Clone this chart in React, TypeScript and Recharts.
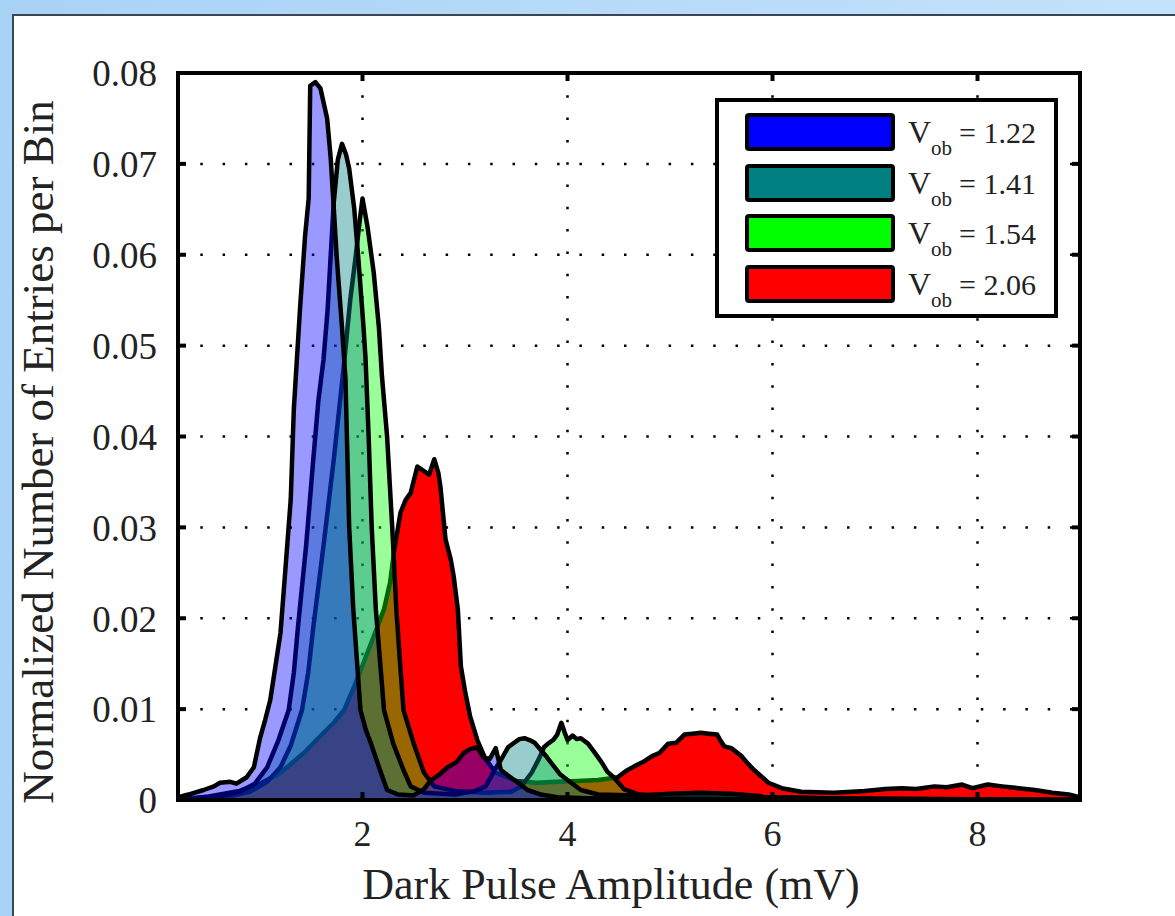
import { AreaChart, Area, XAxis, YAxis, CartesianGrid, Legend } from "recharts";

// dark pulse amplitude histograms, one per overbias voltage
const xTicks = [2, 4, 6, 8];
const yTicks = [0, 0.01, 0.02, 0.03, 0.04, 0.05, 0.06, 0.07, 0.08];

const vobLabels = ["1.22", "1.41", "1.54", "2.06"];
const vobColors = ["#0000ff", "#008080", "#00ff00", "#ff0000"];

// [amplitude mV, normalized entries]
const vob122: [number, number][] = [
  [0.2, 0.0003], [0.3, 0.0006], [0.45, 0.0011], [0.55, 0.0015], [0.61, 0.0019], [0.71, 0.002],
  [0.77, 0.0018], [0.87, 0.0025], [0.94, 0.0036], [1.0, 0.0068], [1.05, 0.0088], [1.1, 0.011],
  [1.2, 0.0184], [1.25, 0.0257], [1.3, 0.0331], [1.33, 0.043], [1.39, 0.054], [1.44, 0.0621],
  [1.475, 0.0662], [1.49, 0.0786], [1.54, 0.079], [1.59, 0.0783], [1.655, 0.075], [1.69, 0.0706],
  [1.75, 0.0595], [1.8, 0.052], [1.834, 0.0463], [1.85, 0.039], [1.87, 0.03], [1.91, 0.021],
  [1.98, 0.0099], [2.03, 0.0078], [2.08, 0.0063], [2.18, 0.003], [2.24, 0.0011], [2.35, 0.0006],
  [2.5, 0.0005], [2.6, 0.0012], [2.67, 0.0022], [2.75, 0.0028], [2.83, 0.0036], [2.92, 0.0042],
  [2.99, 0.0052], [3.05, 0.0056], [3.12, 0.0058], [3.18, 0.0047], [3.24, 0.0045], [3.3, 0.0057],
  [3.35, 0.0033], [3.42, 0.0027], [3.48, 0.0022], [3.61, 0.0011], [3.74, 0.0006], [3.9, 0.0003],
  [4.2, 0.0002], [5.0, 0.0001], [9.0, 0],
];

const vob141: [number, number][] = [
  [0.3, 0.0001], [0.6, 0.0004], [0.8, 0.0009], [0.95, 0.0018], [1.07, 0.0036], [1.18, 0.0066],
  [1.28, 0.0099], [1.33, 0.014], [1.37, 0.019], [1.45, 0.028], [1.52, 0.0375], [1.57, 0.044],
  [1.62, 0.0485], [1.66, 0.054], [1.69, 0.06], [1.72, 0.0658], [1.76, 0.0705], [1.8, 0.0722],
  [1.84, 0.071], [1.87, 0.0695], [1.92, 0.065], [1.96, 0.0595], [2.01, 0.052], [2.03, 0.0485],
  [2.06, 0.04], [2.09, 0.03], [2.13, 0.021], [2.21, 0.0099], [2.3, 0.0062], [2.4, 0.0033],
  [2.47, 0.0015], [2.6, 0.0008], [2.9, 0.0006], [3.1, 0.001], [3.2, 0.0015], [3.25, 0.0025],
  [3.3, 0.0035], [3.35, 0.0044], [3.42, 0.0058], [3.48, 0.0063], [3.53, 0.0067], [3.58, 0.0068],
  [3.63, 0.0066], [3.68, 0.0063], [3.74, 0.0055], [3.8, 0.0047], [3.86, 0.0038], [3.93, 0.0028],
  [4.0, 0.0022], [4.13, 0.0011], [4.3, 0.0006], [4.7, 0.0005], [5.0, 0.0007], [5.3, 0.0008],
  [5.6, 0.0007], [5.9, 0.0004], [6.5, 0.0002], [9.0, 0],
];

const vob154: [number, number][] = [
  [0.4, 0.0001], [0.7, 0.0004], [0.9, 0.0009], [1.07, 0.002], [1.2, 0.0036], [1.3, 0.006],
  [1.41, 0.0099], [1.47, 0.014], [1.52, 0.019], [1.62, 0.028], [1.72, 0.0375], [1.82, 0.048],
  [1.88, 0.055], [1.93, 0.0595], [1.97, 0.0635], [2.0, 0.0662], [2.05, 0.063], [2.11, 0.058],
  [2.16, 0.052], [2.19, 0.0466], [2.24, 0.04], [2.29, 0.03], [2.33, 0.021], [2.37, 0.0145],
  [2.4, 0.0099], [2.5, 0.0062], [2.6, 0.003], [2.7, 0.0015], [2.9, 0.001], [3.2, 0.0008],
  [3.45, 0.0009], [3.55, 0.0015], [3.65, 0.003], [3.72, 0.0045], [3.77, 0.0058], [3.81, 0.0062],
  [3.86, 0.0066], [3.9, 0.0072], [3.94, 0.0085], [3.97, 0.0075], [4.0, 0.0066], [4.05, 0.0071],
  [4.09, 0.0067], [4.13, 0.0068], [4.2, 0.0062], [4.26, 0.0053], [4.33, 0.0042], [4.39, 0.0031],
  [4.45, 0.0025], [4.55, 0.0012], [4.7, 0.0006], [5.0, 0.0004], [6.0, 0.0002], [9.0, 0],
];

const vob206: [number, number][] = [
  [0.25, 0.0001], [0.5, 0.0004], [0.8, 0.001], [1.0, 0.0018], [1.2, 0.003], [1.43, 0.0052],
  [1.62, 0.0074], [1.72, 0.0085], [1.82, 0.0099], [1.92, 0.0125], [2.01, 0.0151], [2.11, 0.018],
  [2.21, 0.021], [2.27, 0.024], [2.31, 0.0275], [2.37, 0.0316], [2.42, 0.033], [2.47, 0.0338],
  [2.535, 0.0367], [2.6, 0.0362], [2.65, 0.0358], [2.7, 0.0375], [2.74, 0.036], [2.76, 0.0345],
  [2.81, 0.0287], [2.86, 0.0265], [2.89, 0.0246], [2.93, 0.021], [2.96, 0.0147], [3.0, 0.012],
  [3.05, 0.0092], [3.12, 0.0066], [3.2, 0.0045], [3.3, 0.003], [3.5, 0.0021], [3.7, 0.0019],
  [3.9, 0.002], [4.1, 0.0021], [4.3, 0.0022], [4.49, 0.0025], [4.57, 0.0032], [4.65, 0.0037],
  [4.74, 0.0042], [4.82, 0.0048], [4.9, 0.0052], [4.98, 0.0062], [5.06, 0.0063], [5.14, 0.0072],
  [5.22, 0.0073], [5.3, 0.0074], [5.38, 0.0073], [5.46, 0.0072], [5.5, 0.0064], [5.53, 0.0059],
  [5.6, 0.0057], [5.7, 0.0048], [5.76, 0.004], [5.82, 0.0033], [5.9, 0.0025], [5.96, 0.0019],
  [6.09, 0.0013], [6.28, 0.0009], [6.6, 0.0008], [6.9, 0.001], [7.1, 0.0012], [7.26, 0.0013],
  [7.4, 0.0012], [7.58, 0.0015], [7.7, 0.0014], [7.85, 0.0017], [7.95, 0.0013], [8.1, 0.0017],
  [8.24, 0.0015], [8.4, 0.0013], [8.56, 0.0011], [8.73, 0.0008], [8.89, 0.0006], [9.0, 0.0003],
];

const toRows = (pts: [number, number][]) => pts.map(([x, y]) => ({ x, y }));

// drawing order: red at the back (opaque), the rest translucent on top
const layers = [
  { key: "vob206", pts: vob206, color: vobColors[3], opacity: 1 },
  { key: "vob154", pts: vob154, color: vobColors[2], opacity: 0.4 },
  { key: "vob141", pts: vob141, color: vobColors[1], opacity: 0.4 },
  { key: "vob122", pts: vob122, color: vobColors[0], opacity: 0.4 },
];

const FONT = '"Liberation Serif", "Times New Roman", serif';
// plot box edges (matches margins + axis sizes below)
const PLOT_L = 178;
const PLOT_R = 1080;
const PLOT_T = 73;
const PLOT_B = 800;
const TICK_IN = 8;

const fmtY = (v: number) => (v === 0 ? "0" : v.toFixed(2));

// tick label plus the small inward tick marks on both sides of the box
function YTick(props: any) {
  const { x, y, payload } = props;
  return (
    <g>
      <text x={x} y={y} dy="0.36em" textAnchor="end" fontSize={37} fontFamily={FONT} fill="#222">
        {fmtY(payload.value)}
      </text>
      <line x1={PLOT_L} x2={PLOT_L + TICK_IN} y1={y} y2={y} stroke="#000" strokeWidth={4} />
      <line x1={PLOT_R - TICK_IN} x2={PLOT_R} y1={y} y2={y} stroke="#000" strokeWidth={4} />
    </g>
  );
}

function XTick(props: any) {
  const { x, y, payload } = props;
  return (
    <g>
      <text x={x} y={y} dy="0.71em" textAnchor="middle" fontSize={36} fontFamily={FONT} fill="#222">
        {payload.value}
      </text>
      <line x1={x} x2={x} y1={PLOT_B - TICK_IN} y2={PLOT_B} stroke="#000" strokeWidth={4} />
      <line x1={x} x2={x} y1={PLOT_T} y2={PLOT_T + TICK_IN} stroke="#000" strokeWidth={4} />
    </g>
  );
}

function VobLegend() {
  return (
    <div
      style={{
        position: "relative",
        width: 343,
        height: 220,
        boxSizing: "border-box",
        border: "4px solid #000",
        background: "#fff",
        fontFamily: FONT,
        color: "#222",
      }}
    >
      {vobLabels.map((v, i) => (
        <div key={v}>
          <div
            style={{
              position: "absolute",
              left: 26,
              top: 11 + i * 50.5,
              width: 150,
              height: 38,
              boxSizing: "border-box",
              border: "4px solid #000",
              borderRadius: 4,
              background: vobColors[i],
            }}
          />
          <div
            style={{
              position: "absolute",
              left: 189,
              top: 11 + i * 50.5,
              height: 38,
              lineHeight: "38px",
              whiteSpace: "nowrap",
              fontSize: 32,
            }}
          >
            V
            <span style={{ fontSize: 21, position: "relative", top: 12 }}>ob</span>
            <span style={{ fontSize: 30, marginLeft: 7 }}>= {v}</span>
          </div>
        </div>
      ))}
    </div>
  );
}

export default function App() {
  return (
    <div
      style={{
        position: "fixed",
        left: 0,
        top: 0,
        width: 1175,
        height: 916,
        overflow: "hidden",
        background: "linear-gradient(to right, #a8d2f6, #c4e2fb)",
      }}
    >
      <div
        style={{
          position: "absolute",
          left: 12,
          top: 14,
          width: 1180,
          height: 920,
          background: "#fff",
          border: "2px solid #3b4654",
        }}
      />
      <div style={{ position: "absolute", left: 0, top: 0 }}>
        <AreaChart
          width={1175}
          height={916}
          margin={{ top: PLOT_T, right: 1175 - PLOT_R, bottom: 0, left: 8 }}
        >
          <CartesianGrid stroke="#000" strokeWidth={2.5} strokeDasharray="2.5 19.8" />
          <XAxis
            dataKey="x"
            type="number"
            domain={[0.2, 9]}
            allowDataOverflow
            ticks={xTicks}
            height={916 - PLOT_B}
            axisLine={false}
            tickLine={false}
            tickSize={6}
            tickMargin={14}
            tick={<XTick />}
            label={{
              content: ({ viewBox }: any) => (
                <text
                  x={viewBox.x + viewBox.width / 2 - 18}
                  y={899}
                  textAnchor="middle"
                  fontSize={44}
                  fontFamily={FONT}
                  fill="#222"
                >
                  Dark Pulse Amplitude (mV)
                </text>
              ),
            }}
          />
          <YAxis
            type="number"
            domain={[0, 0.08]}
            allowDataOverflow
            ticks={yTicks}
            width={PLOT_L - 8}
            axisLine={false}
            tickLine={false}
            tickSize={6}
            tickMargin={15}
            tick={<YTick />}
            label={{
              content: () => (
                <text
                  transform="rotate(-90)"
                  x={-452}
                  y={53}
                  textAnchor="middle"
                  fontSize={45}
                  fontFamily={FONT}
                  fill="#222"
                >
                  Normalized Number of Entries per Bin
                </text>
              ),
            }}
          />
          {layers.map((l) => (
            <Area
              key={l.key}
              data={toRows(l.pts)}
              dataKey="y"
              type="linear"
              fill={l.color}
              fillOpacity={l.opacity}
              stroke="#000"
              strokeWidth={4.5}
              strokeLinejoin="round"
              dot={false}
              activeDot={false}
              isAnimationActive={false}
            />
          ))}
          <Legend
            align="center"
            verticalAlign="middle"
            layout="horizontal"
            wrapperStyle={{ left: 715, top: 98, width: 343, height: 220 }}
            content={() => <VobLegend />}
          />
        </AreaChart>
      </div>
      {/* plot frame */}
      <div
        style={{
          position: "absolute",
          left: PLOT_L - 2,
          top: PLOT_T - 2,
          width: PLOT_R - PLOT_L + 4,
          height: PLOT_B - PLOT_T + 4,
          boxSizing: "border-box",
          border: "4px solid #000",
          pointerEvents: "none",
        }}
      />
    </div>
  );
}
